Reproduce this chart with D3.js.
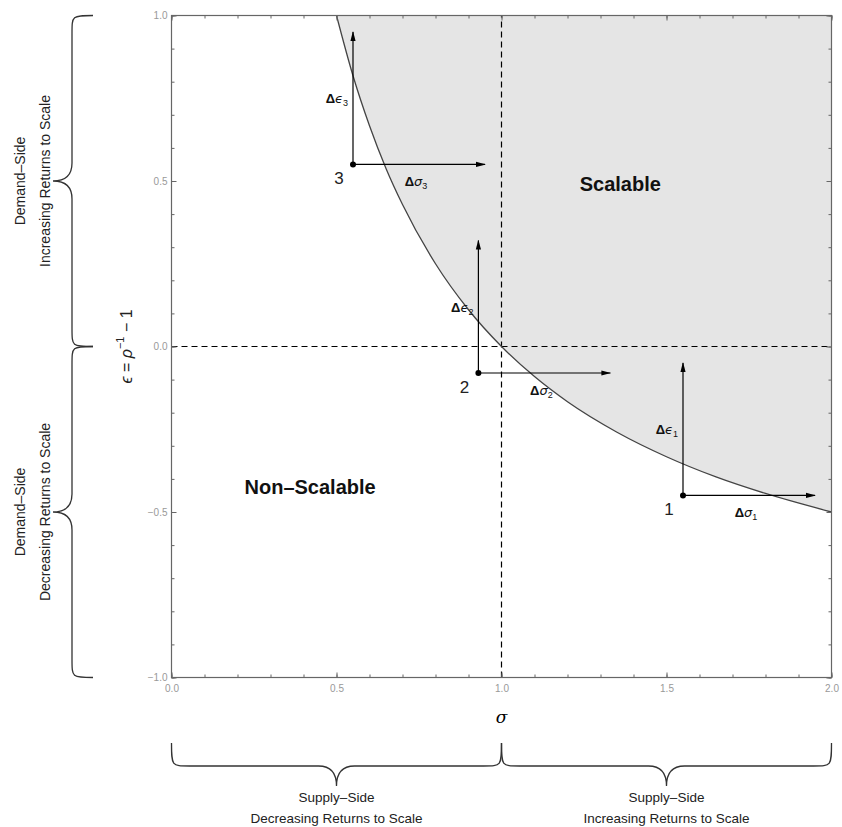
<!DOCTYPE html>
<html>
<head>
<meta charset="utf-8">
<script src="https://cdn.jsdelivr.net/npm/d3@7/dist/d3.min.js"></script>
<style>
  html, body { margin: 0; padding: 0; background: #fff; }
  svg { display: block; font-family: "Liberation Sans", Arial, sans-serif; }
</style>
</head>
<body>
<svg id="chart" width="842" height="827"></svg>
<script>
// ---------- data ----------
const sigmaDomain = [0, 2];
const epsDomain = [-1, 1];
const sigmaMajorTicks = [0, 0.5, 1.0, 1.5, 2.0];
const epsMajorTicks = [-1.0, -0.5, 0.0, 0.5, 1.0];
// boundary curve
const curveSigma = [0.5, 0.55, 0.6, 0.65, 0.7, 0.8, 0.9, 1.0, 1.1, 1.2, 1.35, 1.5, 1.65, 1.8, 2.0];
const curveEps   = [1.0, 0.818, 0.667, 0.538, 0.429, 0.25, 0.111, 0.0, -0.091, -0.167, -0.259, -0.333, -0.394, -0.444, -0.5];
// labelled points and their arrows
const pointLabels = ["1", "2", "3"];
const pointSigma = [1.55, 0.93, 0.55];
const pointEps = [-0.45, -0.08, 0.55];
const deltaSigma = [0.4, 0.4, 0.4];
const deltaEps = [0.4, 0.4, 0.4];
// region texts
const regionNames = ["Scalable", "Non–Scalable"];
const regionSigma = [1.36, 0.42];
const regionEps = [0.47, -0.445];
// brace texts
const supplyLabels = [["Supply–Side", "Decreasing Returns to Scale"], ["Supply–Side", "Increasing Returns to Scale"]];
const supplyRanges = [[0, 1], [1, 2]];
const demandLabels = [["Demand–Side", "Increasing Returns to Scale"], ["Demand–Side", "Decreasing Returns to Scale"]];
const demandRanges = [[0, 1], [-1, 0]];

// ---------- setup ----------
const svg = d3.select("#chart");
const x = d3.scaleLinear().domain(sigmaDomain).range([171.5, 831.5]);
const y = d3.scaleLinear().domain(epsDomain).range([677.5, 15.5]);
const fmt = d3.format(".1f");
const axisColor = "#666";
const labelColor = "#999";

svg.append("defs").append("marker")
  .attr("id", "arrow").attr("markerUnits", "userSpaceOnUse")
  .attr("viewBox", "0 -5 10 10").attr("refX", 9).attr("refY", 0)
  .attr("markerWidth", 10).attr("markerHeight", 10).attr("orient", "auto")
  .append("path").attr("d", "M0,-2.6L10,0L0,2.6Z").attr("fill", "#000");

svg.select("defs").append("clipPath").attr("id", "plotclip")
  .append("rect").attr("x", x(0)).attr("y", y(1)).attr("width", x(2) - x(0)).attr("height", y(-1) - y(1));

const curveData = curveSigma.map((s, i) => [s, curveEps[i]]);

// shaded scalable region
const area = d3.area()
  .x(d => x(d[0])).y0(y(epsDomain[1])).y1(d => y(d[1]))
  .curve(d3.curveMonotoneX);
svg.append("path").datum(curveData).attr("d", area)
  .attr("fill", "#e5e5e5").attr("clip-path", "url(#plotclip)");

// dashed lines
svg.append("line").attr("x1", x(1)).attr("x2", x(1)).attr("y1", y(-1)).attr("y2", y(1))
  .attr("stroke", "#000").attr("stroke-width", 1.2).attr("stroke-dasharray", "6,4");
svg.append("line").attr("x1", x(0)).attr("x2", x(2)).attr("y1", y(0)).attr("y2", y(0))
  .attr("stroke", "#000").attr("stroke-width", 1.2).attr("stroke-dasharray", "6,4");

// boundary curve
svg.append("path").datum(curveData)
  .attr("d", d3.line().x(d => x(d[0])).y(d => y(d[1])).curve(d3.curveMonotoneX))
  .attr("fill", "none").attr("stroke", "#444").attr("stroke-width", 1.3)
  .attr("clip-path", "url(#plotclip)");

// ---------- axes (frame, inward ticks) ----------
const minorX = x.ticks(20), minorY = y.ticks(20);
function styleAxis(g) {
  g.select(".domain").remove();
  g.selectAll(".tick line").attr("stroke", axisColor);
  g.selectAll(".tick text").attr("fill", labelColor).attr("font-size", "10px")
    .attr("font-family", "Liberation Sans, Arial, sans-serif");
}
svg.append("g").attr("transform", `translate(0,${y(-1)})`)
  .call(d3.axisBottom(x).tickValues(minorX).tickSize(-3).tickFormat("")).call(styleAxis);
svg.append("g").attr("transform", `translate(0,${y(-1)})`)
  .call(d3.axisBottom(x).tickValues(sigmaMajorTicks).tickSize(-5).tickPadding(7).tickFormat(fmt)).call(styleAxis);
svg.append("g").attr("transform", `translate(0,${y(1)})`)
  .call(d3.axisTop(x).tickValues(minorX).tickSize(-3).tickFormat("")).call(styleAxis);
svg.append("g").attr("transform", `translate(0,${y(1)})`)
  .call(d3.axisTop(x).tickValues(sigmaMajorTicks).tickSize(-5).tickFormat("")).call(styleAxis);
svg.append("g").attr("transform", `translate(${x(0)},0)`)
  .call(d3.axisLeft(y).tickValues(minorY).tickSize(-3).tickFormat("")).call(styleAxis);
svg.append("g").attr("transform", `translate(${x(0)},0)`)
  .call(d3.axisLeft(y).tickValues(epsMajorTicks).tickSize(-5).tickPadding(4).tickFormat(fmt)).call(styleAxis);
svg.append("g").attr("transform", `translate(${x(2)},0)`)
  .call(d3.axisRight(y).tickValues(minorY).tickSize(-3).tickFormat("")).call(styleAxis);
svg.append("g").attr("transform", `translate(${x(2)},0)`)
  .call(d3.axisRight(y).tickValues(epsMajorTicks).tickSize(-5).tickFormat("")).call(styleAxis);

svg.append("rect").attr("x", x(0)).attr("y", y(1))
  .attr("width", x(2) - x(0)).attr("height", y(-1) - y(1))
  .attr("fill", "none").attr("stroke", axisColor).attr("stroke-width", 1.2);

// axis titles
svg.append("text").attr("x", x(1)).attr("y", 723).attr("text-anchor", "middle")
  .attr("font-size", "17px").attr("font-style", "italic").attr("font-family", "DejaVu Serif, serif")
  .text("σ");
const yl = svg.append("text").attr("transform", `translate(132,${y(0)}) rotate(-90)`)
  .attr("text-anchor", "middle").attr("font-size", "16px").attr("fill", "#222");
yl.append("tspan").attr("font-style", "italic").text("ϵ");
yl.append("tspan").text(" = ");
yl.append("tspan").attr("font-style", "italic").text("ρ");
yl.append("tspan").attr("font-size", "11px").attr("dy", -8).text("−1");
yl.append("tspan").attr("dy", 8).text(" − 1");

// ---------- points, arrows, labels ----------
pointLabels.forEach((lab, i) => {
  const px = x(pointSigma[i]), py = y(pointEps[i]);
  const hx = x(pointSigma[i] + deltaSigma[i]);
  const vy = y(pointEps[i] + deltaEps[i]);
  svg.append("line").attr("x1", px).attr("y1", py).attr("x2", hx).attr("y2", py)
    .attr("stroke", "#000").attr("stroke-width", 1.2).attr("marker-end", "url(#arrow)");
  svg.append("line").attr("x1", px).attr("y1", py).attr("x2", px).attr("y2", vy)
    .attr("stroke", "#000").attr("stroke-width", 1.2).attr("marker-end", "url(#arrow)");
  svg.append("circle").attr("cx", px).attr("cy", py).attr("r", 3).attr("fill", "#000");
  svg.append("text").attr("x", px - 14).attr("y", py + 20).attr("text-anchor", "middle")
    .attr("font-size", "17px").attr("fill", "#222").text(lab);
  const ts = svg.append("text").attr("x", (px + hx) / 2 - 3).attr("y", py + 22)
    .attr("text-anchor", "middle").attr("font-size", "13px").attr("fill", "#111");
  ts.append("tspan").attr("font-weight", "bold").text("Δ");
  ts.append("tspan").attr("font-style", "italic").attr("font-family", "DejaVu Sans, sans-serif").text("σ");
  ts.append("tspan").attr("font-size", "9px").attr("dy", 3).text(lab);
  const te = svg.append("text").attr("x", px - 5).attr("y", (py + vy) / 2 + 5)
    .attr("text-anchor", "end").attr("font-size", "13px").attr("fill", "#111");
  te.append("tspan").attr("font-weight", "bold").text("Δ");
  te.append("tspan").attr("font-style", "italic").attr("font-family", "DejaVu Sans, sans-serif").text("ϵ");
  te.append("tspan").attr("font-size", "9px").attr("dy", 3).text(lab);
});

// region names
regionNames.forEach((name, i) => {
  svg.append("text").attr("x", x(regionSigma[i])).attr("y", y(regionEps[i]))
    .attr("text-anchor", "middle").attr("font-size", "20px").attr("font-weight", "bold")
    .attr("fill", "#111").text(name);
});

// ---------- braces ----------
function hBrace(x1, x2, yEnd, ySpine, yTip) {
  const xm = (x1 + x2) / 2, r = 18;
  return `M${x1},${yEnd} C${x1},${ySpine} ${x1},${ySpine} ${x1 + r},${ySpine}` +
    ` L${xm - r},${ySpine} C${xm - r * 0.35},${ySpine} ${xm},${ySpine + (yTip - ySpine) * 0.35} ${xm},${yTip}` +
    ` C${xm},${ySpine + (yTip - ySpine) * 0.35} ${xm + r * 0.35},${ySpine} ${xm + r},${ySpine}` +
    ` L${x2 - r},${ySpine} C${x2},${ySpine} ${x2},${ySpine} ${x2},${yEnd}`;
}
function vBrace(y1, y2, xEnd, xSpine, xTip) {
  const ym = (y1 + y2) / 2, r = 18;
  return `M${xEnd},${y1} C${xSpine},${y1} ${xSpine},${y1} ${xSpine},${y1 + r}` +
    ` L${xSpine},${ym - r} C${xSpine},${ym - r * 0.35} ${xSpine + (xTip - xSpine) * 0.35},${ym} ${xTip},${ym}` +
    ` C${xSpine + (xTip - xSpine) * 0.35},${ym} ${xSpine},${ym + r * 0.35} ${xSpine},${ym + r}` +
    ` L${xSpine},${y2 - r} C${xSpine},${y2} ${xSpine},${y2} ${xEnd},${y2}`;
}
supplyRanges.forEach((rg, i) => {
  const x1 = x(rg[0]), x2 = x(rg[1]);
  svg.append("path").attr("d", hBrace(x1, x2, 743, 766, 786))
    .attr("fill", "none").attr("stroke", "#333").attr("stroke-width", 1.3);
  supplyLabels[i].forEach((t, j) => {
    svg.append("text").attr("x", (x1 + x2) / 2).attr("y", 802 + j * 21)
      .attr("text-anchor", "middle").attr("font-size", "13.5px").attr("fill", "#222").text(t);
  });
});
demandRanges.forEach((rg, i) => {
  const y1 = y(rg[1]), y2 = y(rg[0]);
  svg.append("path").attr("d", vBrace(y1, y2, 93, 72, 53))
    .attr("fill", "none").attr("stroke", "#333").attr("stroke-width", 1.3);
  demandLabels[i].forEach((t, j) => {
    svg.append("text").attr("transform", `translate(${25 + j * 25},${(y1 + y2) / 2}) rotate(-90)`)
      .attr("text-anchor", "middle").attr("font-size", "14px").attr("fill", "#222").text(t);
  });
});
</script>
</body>
</html>
